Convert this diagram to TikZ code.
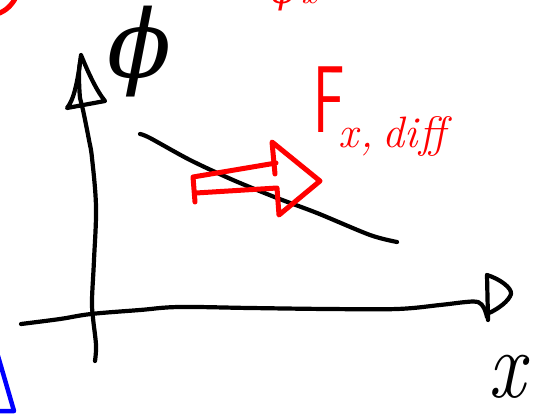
\documentclass[tikz,border=0pt]{standalone}
\usepackage{fontspec}
\newfontfamily\grk{DejaVu Serif}
\definecolor{penred}{RGB}{255,0,0}
\definecolor{penblue}{RGB}{0,0,255}
\tikzset{
  blackink/.style={line width=4.2pt, line cap=round, line join=round, draw=black},
  redink/.style={line width=5pt, line cap=round, line join=round, draw=penred},
  blueink/.style={line width=4.5pt, line cap=round, line join=round, draw=penblue},
  lbl/.style={inner sep=0pt, outer sep=0pt}
}
\begin{document}
\begin{tikzpicture}[x=1pt,y=-1pt]
\useasboundingbox (0,0) rectangle (540,414);
\clip (0,0) rectangle (540,414);
% partial red marks at the edges
\draw[redink] (-3,14) .. controls (6,11) and (12,5) .. (16,-3);
\node[lbl, text=penred, anchor=base west] (topphi) at (271,4)
  {\fontsize{36}{36}\selectfont{\grk\itshape ϕ}\hspace{6pt}\itshape x};
\draw[blueink] (-2,356) -- (14,411) -- (-5,411);
% vertical axis
\draw[blackink] plot[smooth, tension=0.6] coordinates
  {(81,58) (79,72) (80,98) (83,110) (89,140) (92,158) (96,207) (94,260) (92,300) (93,318) (96,345) (95,361)};
\draw[blackink] (81,55) .. controls (88,72) and (96,90) .. (105,101) -- (67,108)
  .. controls (74,100) and (78,80) .. (81,55);
% horizontal axis
\draw[blackink] plot[smooth, tension=0.6] coordinates
  {(21,324) (60,319) (91,314) (140,310) (179,307) (250,308) (328,309) (397,309) (440,305) (466,302) (478,302) (484,308) (487,317)};
\draw[blackink] (487,275) -- (488,320);
\draw[blackink] (487,275) .. controls (500,279) and (512,288) .. (511,294)
  .. controls (509,301) and (498,309) .. (489,313);
% axis labels
\node[lbl, anchor=base] (phi) at (140,78) {\fontsize{94}{94}\selectfont\grk\itshape ϕ};
\node[lbl] (xlabel) at (507,377) {\scalebox{0.85}[1]{\fontsize{96}{96}\selectfont\itshape x}};
% black line
\draw[blackink] plot[smooth, tension=0.5] coordinates
  {(140,134) (150,138) (190,160) (233,180) (277,198) (317,213) (370,235) (397,242)};
% red arrow
\draw[redink] (195,202) -- (193,177) -- (276,163);
\draw[redink] (275,174) -- (272,142) -- (320,181) -- (279,215) -- (277,188) -- (196,193);
% force label
\node[lbl, text=penred, anchor=base west] (F) at (313,133)
  {\scalebox{0.62}[1]{\fontsize{95}{95}\selectfont\sffamily F}};
\node[lbl, text=penred, anchor=base west] (Fsub) at (338,148)
  {\fontsize{44}{44}\selectfont\itshape x\hspace{3pt},\hspace{8pt}d\hspace{1pt}i\hspace{1pt}ff};
\end{tikzpicture}
\end{document}
